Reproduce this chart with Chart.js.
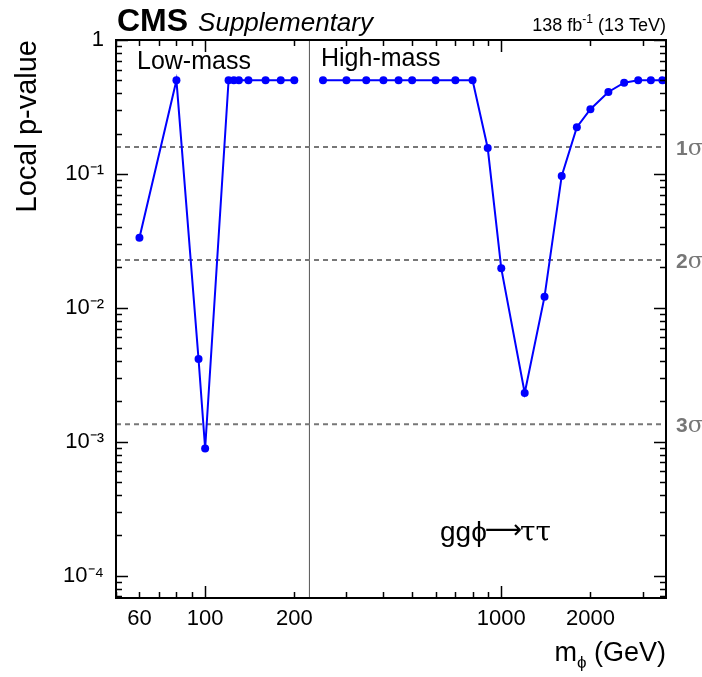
<!DOCTYPE html>
<html>
<head>
<meta charset="utf-8">
<script src="https://cdn.jsdelivr.net/npm/chart.js@4.4.1/dist/chart.umd.min.js"></script>
<style>
  html, body { margin: 0; padding: 0; background: #fff; }
</style>
</head>
<body>
<canvas id="pvalueChart" width="702" height="677"></canvas>
<script>
// ggphi -> tautau local p-value scan
const lowMass = [60, 80, 95, 100, 120, 125, 130, 140, 160, 180, 200];
const lowPValue = [0.0333, 0.5, 0.00414, 0.00089, 0.5, 0.5, 0.5, 0.5, 0.5, 0.5, 0.5];
const highMass = [250, 300, 350, 400, 450, 500, 600, 700, 800, 900, 1000, 1200, 1400, 1600, 1800, 2000, 2300, 2600, 2900, 3200, 3500];
const highPValue = [0.5, 0.5, 0.5, 0.5, 0.5, 0.5, 0.5, 0.5, 0.5, 0.156, 0.0197, 0.00231, 0.0121, 0.0966, 0.223, 0.304, 0.409, 0.48, 0.5, 0.5, 0.5];

const sigmaLabels = ['1', '2', '3'];
const sigmaPValue = [0.1587, 0.02275, 0.00135];

const xRange = [50, 3600];
const yRange = [6.8e-5, 1];
const splitMass = 225;

const xTicks = [50, 60, 70, 80, 90, 100, 200, 300, 400, 500, 600, 700, 800, 900, 1000, 2000, 3000];
const xTickLabels = [60, 100, 200, 1000, 2000];
const yMajorTicks = [1e-4, 1e-3, 1e-2, 1e-1, 1];
const yTickLabels = ['10⁻⁴', '10⁻³', '10⁻²', '10⁻¹', '1'];
const yMantissas = [1, 2, 3, 4, 5, 6, 7, 8, 9];

const FONT = '"Liberation Sans", Arial, Helvetica, sans-serif';
const blue = '#0000ff';
const grey = '#777777';

const yTicks = [];
[1e-5, 1e-4, 1e-3, 1e-2, 1e-1].forEach(d => {
    yMantissas.forEach(m => {
        const v = +(m * d).toPrecision(3);
        if (v >= yRange[0] && v <= yRange[1]) yTicks.push(v);
    });
});
yTicks.push(1);

function isPow10(v) {
    const l = Math.log10(v);
    return Math.abs(l - Math.round(l)) < 1e-9;
}

function toPoints(xs, ys) {
    return xs.map((x, i) => ({ x: x, y: ys[i] }));
}

// inward ticks, frame and text annotations (ROOT style)
const decorPlugin = {
    id: 'decor',
    afterDraw(chart) {
        const ctx = chart.ctx;
        const a = chart.chartArea;
        const xs = chart.scales.x;
        const ys = chart.scales.y;
        ctx.save();

        // ticks
        ctx.strokeStyle = '#000';
        ctx.lineWidth = 1.5;
        ctx.beginPath();
        xs.ticks.forEach(t => {
            const px = Math.round(xs.getPixelForValue(t.value)) + 0.5;
            const len = isPow10(t.value) ? 12 : 6;
            ctx.moveTo(px, a.bottom); ctx.lineTo(px, a.bottom - len);
            ctx.moveTo(px, a.top); ctx.lineTo(px, a.top + len);
        });
        ys.ticks.forEach(t => {
            const py = Math.round(ys.getPixelForValue(t.value)) + 0.5;
            const len = isPow10(t.value) ? 12 : 6;
            ctx.moveTo(a.left, py); ctx.lineTo(a.left + len, py);
            ctx.moveTo(a.right, py); ctx.lineTo(a.right - len, py);
        });
        ctx.stroke();

        // frame
        ctx.lineWidth = 2;
        ctx.strokeRect(a.left, a.top, a.right - a.left, a.bottom - a.top);

        // header
        ctx.fillStyle = '#000';
        ctx.textBaseline = 'alphabetic';
        ctx.textAlign = 'left';
        ctx.font = 'bold 32px ' + FONT;
        ctx.fillText('CMS', a.left + 1, 31);
        const cmsW = ctx.measureText('CMS').width;
        ctx.font = 'italic 26px ' + FONT;
        ctx.fillText('Supplementary', a.left + 1 + cmsW + 10, 31);

        // lumi, right aligned
        const p1 = '138 fb', p2 = '-1', p3 = ' (13 TeV)';
        ctx.font = '18px ' + FONT;
        const w1 = ctx.measureText(p1).width;
        const w3 = ctx.measureText(p3).width;
        ctx.font = '12px ' + FONT;
        const w2 = ctx.measureText(p2).width;
        let lx = a.right - (w1 + w2 + w3);
        ctx.font = '18px ' + FONT;
        ctx.fillText(p1, lx, 31);
        ctx.font = '12px ' + FONT;
        ctx.fillText(p2, lx + w1, 23);
        ctx.font = '18px ' + FONT;
        ctx.fillText(p3, lx + w1 + w2, 31);

        // region labels
        ctx.font = '25px ' + FONT;
        ctx.fillText('Low-mass', 137, 69);
        ctx.fillText('High-mass', 321, 66);

        // process label
        ctx.font = '28px ' + FONT;
        ctx.fillText('ggϕ', 440, 541);
        const wg = ctx.measureText('ggϕ').width;
        ctx.font = '26px "DejaVu Sans", sans-serif';
        ctx.fillText('⟶', 440 + wg - 2, 538);
        const wa = ctx.measureText('⟶').width;
        ctx.font = '28px "DejaVu Serif", serif';
        ctx.fillText('ττ', 440 + wg + wa - 4, 541);

        // sigma labels
        ctx.fillStyle = grey;
        ctx.textBaseline = 'middle';
        sigmaPValue.forEach((p, i) => {
            const py = ys.getPixelForValue(p) + 2;
            ctx.font = 'bold 21px ' + FONT;
            ctx.fillText(sigmaLabels[i], a.right + 10, py);
            const nw = ctx.measureText(sigmaLabels[i]).width;
            ctx.font = '23px "DejaVu Serif", serif';
            ctx.fillText('σ', a.right + 10 + nw, py);
        });

        // x-axis title with subscript
        ctx.fillStyle = '#000';
        ctx.textBaseline = 'alphabetic';
        ctx.font = '27px ' + FONT;
        const tm = 'm', tr = ' (GeV)';
        const wm = ctx.measureText(tm).width;
        const wr = ctx.measureText(tr).width;
        ctx.font = '17px ' + FONT;
        const ws = ctx.measureText('ϕ').width;
        let tx = a.right - (wm + ws + wr);
        ctx.font = '27px ' + FONT;
        ctx.fillText(tm, tx, 661);
        ctx.font = '17px ' + FONT;
        ctx.fillText('ϕ', tx + wm, 668);
        ctx.font = '27px ' + FONT;
        ctx.fillText(tr, tx + wm + ws, 661);

        ctx.restore();
    }
};

const datasets = [
    {
        label: 'Low-mass',
        data: toPoints(lowMass, lowPValue),
        borderColor: blue,
        backgroundColor: blue,
        borderWidth: 2,
        pointRadius: 4,
        pointBorderWidth: 0,
    },
    {
        label: 'High-mass',
        data: toPoints(highMass, highPValue),
        borderColor: blue,
        backgroundColor: blue,
        borderWidth: 2,
        pointRadius: 4,
        pointBorderWidth: 0,
    },
];

sigmaPValue.forEach((p, i) => {
    datasets.push({
        label: sigmaLabels[i] + 'σ',
        data: [{ x: xRange[0], y: p }, { x: xRange[1], y: p }],
        borderColor: grey,
        borderWidth: 2,
        borderDash: [5, 4],
        pointRadius: 0,
    });
});

datasets.push({
    label: 'split',
    data: [{ x: splitMass, y: yRange[0] }, { x: splitMass, y: yRange[1] }],
    borderColor: '#555555',
    borderWidth: 1,
    pointRadius: 0,
});

const ctx = document.getElementById('pvalueChart').getContext('2d');
new Chart(ctx, {
    type: 'line',
    data: { datasets: datasets },
    plugins: [decorPlugin],
    options: {
        responsive: false,
        animation: false,
        layout: { padding: { top: 40, right: 36, left: 0, bottom: 0 } },
        plugins: {
            legend: { display: false },
            tooltip: { enabled: false },
        },
        elements: { line: { tension: 0 } },
        scales: {
            x: {
                type: 'logarithmic',
                min: xRange[0],
                max: xRange[1],
                grid: { display: false, drawTicks: false },
                border: { display: false },
                afterBuildTicks: (scale) => {
                    scale.ticks = xTicks.map(v => ({ value: v }));
                },
                afterFit: (scale) => { scale.height = 79; },
                ticks: {
                    autoSkip: false,
                    maxRotation: 0,
                    padding: 8,
                    color: '#000',
                    font: { family: FONT, size: 22 },
                    callback: (value) => xTickLabels.includes(value) ? String(value) : '',
                },
            },
            y: {
                type: 'logarithmic',
                min: yRange[0],
                max: yRange[1],
                grid: { display: false, drawTicks: false },
                border: { display: false },
                afterBuildTicks: (scale) => {
                    scale.ticks = yTicks.map(v => ({ value: v }));
                },
                afterFit: (scale) => { scale.width = 116; },
                title: {
                    display: true,
                    text: 'Local p-value',
                    align: 'end',
                    color: '#000',
                    font: { family: FONT, size: 29 },
                    padding: { top: 11, bottom: 0 },
                },
                ticks: {
                    autoSkip: false,
                    padding: 12,
                    color: '#000',
                    font: { family: FONT, size: 22 },
                    callback: (value) => {
                        const i = yMajorTicks.findIndex(v => Math.abs(v - value) / v < 1e-6);
                        return i >= 0 ? yTickLabels[i] : '';
                    },
                },
            },
        },
    },
});
</script>
</body>
</html>
